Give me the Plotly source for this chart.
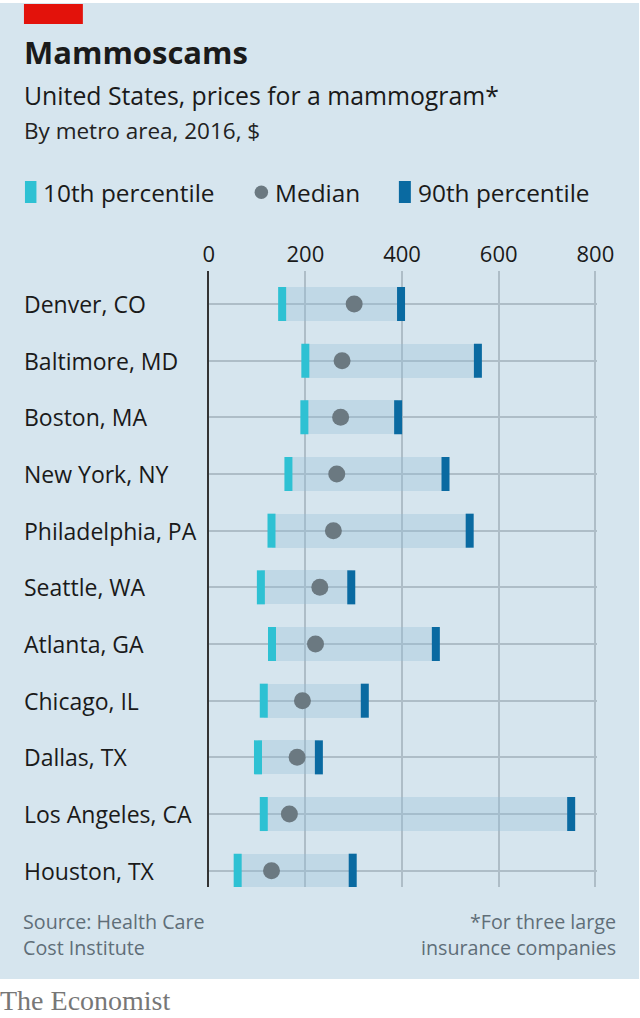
import plotly.graph_objects as go

# ---- data ----
cities = ["Denver, CO", "Baltimore, MD", "Boston, MA", "New York, NY",
          "Philadelphia, PA", "Seattle, WA", "Atlanta, GA", "Chicago, IL",
          "Dallas, TX", "Los Angeles, CA", "Houston, TX"]
p10 = [152, 200, 198, 165, 130, 108, 131, 114, 102, 114, 60]
median = [301, 276, 273, 265, 258, 230, 221, 194, 183, 167, 130]
p90 = [398, 557, 392, 490, 540, 295, 470, 323, 228, 750, 298]
x_ticks = [0, 200, 400, 600, 800]

title = "Mammoscams"
subtitle = "United States, prices for a mammogram*"
unit_line = "By metro area, 2016, $"
legend_labels = ["10th percentile", "Median", "90th percentile"]
source_lines = ["Source: Health Care", "Cost Institute"]
note_lines = ["*For three large", "insurance companies"]

# ---- styles ----
REF_W = 640
W, H = 662, 1018
BG = "#d6e5ee"
C10 = "#2ec1d3"
C90 = "#0a6aa1"
CMED = "#6b7981"
GRID = "#aebdc7"
TXT = "#1a1a1a"
FONT = "Open Sans"

def px(x):
    return x / REF_W

def py(y):
    return 1 - y / H

idx = list(range(len(cities)))
span = [b - a for a, b in zip(p10, p90)]

fig = go.Figure()
fig.add_trace(go.Bar(
    y=idx, x=span, base=p10, orientation="h", width=0.6,
    marker=dict(color="rgba(150,190,215,0.33)", line=dict(width=0)),
    hoverinfo="skip", showlegend=False))
fig.add_trace(go.Scatter(
    y=idx, x=p10, mode="markers", showlegend=False,
    marker=dict(symbol="line-ns", size=24.3, line=dict(width=8, color=C10))))
fig.add_trace(go.Scatter(
    y=idx, x=p90, mode="markers", showlegend=False,
    marker=dict(symbol="line-ns", size=24.3, line=dict(width=8, color=C90))))
fig.add_trace(go.Scatter(
    y=idx, x=median, mode="markers", showlegend=False,
    marker=dict(symbol="circle", size=17, color=CMED, line=dict(width=0))))

x_left, px_per = 209, 0.4841
x_max = 804
row0, row_h = 304, 56.67
top_px, bot_px = 271, 887

fig.update_layout(
    width=W, height=H, autosize=False,
    margin=dict(l=0, r=0, t=0, b=0),
    paper_bgcolor="white", plot_bgcolor="rgba(0,0,0,0)",
    font=dict(family=FONT, color=TXT),
    bargap=0,
    xaxis=dict(
        domain=[px(x_left), px(x_left + x_max * px_per)],
        range=[0, x_max], side="top",
        tickvals=x_ticks, ticktext=[str(v) for v in x_ticks],
        tickfont=dict(size=22, color=TXT, family=FONT),
        showgrid=True, gridcolor=GRID, gridwidth=1.5,
        zeroline=False, showline=False, ticks="",
        ticklabelstandoff=4,
        fixedrange=True,
    ),
    yaxis=dict(
        domain=[py(bot_px), py(top_px)],
        range=[(bot_px - row0) / row_h, (top_px - row0) / row_h],
        tickvals=idx, showticklabels=False,
        showgrid=True, gridcolor=GRID, gridwidth=1.5,
        zeroline=False, showline=True, linecolor="#333333", linewidth=2,
        ticks="", fixedrange=True,
    ),
)

shapes = [
    dict(type="rect", xref="paper", yref="paper", x0=0, x1=1,
         y0=py(979), y1=py(3), fillcolor=BG, line=dict(width=0), layer="below"),
    dict(type="rect", xref="paper", yref="paper", x0=px(24), x1=px(83),
         y0=py(24), y1=py(4), fillcolor="#e3120b", line=dict(width=0), layer="below"),
    # legend swatches
    dict(type="rect", xref="paper", yref="paper", x0=px(25), x1=px(36.5),
         y0=py(203), y1=py(181), fillcolor=C10, line=dict(width=0)),
    dict(type="circle", xref="paper", yref="paper", x0=px(255), x1=px(268.5),
         y0=py(199), y1=py(185.5), fillcolor=CMED, line=dict(width=0)),
    dict(type="rect", xref="paper", yref="paper", x0=px(399.5), x1=px(411.5),
         y0=py(203), y1=py(181), fillcolor=C90, line=dict(width=0)),
]

ann = []
def text(x, y, s, size, color=TXT, xanchor="left", family=FONT, bold=False):
    ann.append(dict(xref="paper", yref="paper", x=px(x), y=py(y), text=(f"<b>{s}</b>" if bold else s),
                    showarrow=False, xanchor=xanchor, yanchor="middle",
                    font=dict(size=size, color=color, family=family)))

text(22, 52, title, 31, bold=True)
text(22, 95, subtitle, 24.8)
text(22, 131, unit_line, 22.5, color="#222222")
text(41, 192, legend_labels[0], 24.4)
text(273, 192, legend_labels[1], 24.4)
text(417, 192, legend_labels[2], 24.4)
text(21, 921, source_lines[0], 19.7, color="#5f6e78")
text(21, 947, source_lines[1], 19.7, color="#5f6e78")
text(619, 921, note_lines[0], 19.7, color="#5f6e78", xanchor="right")
text(619, 947, note_lines[1], 19.7, color="#5f6e78", xanchor="right")
text(-2, 1000, "The Economist", 28, color="#777777", family="Liberation Serif")

for i, c in enumerate(cities):
    ann.append(dict(xref="paper", yref="y", x=px(22), y=i, text=c, showarrow=False,
                    xanchor="left", yanchor="middle",
                    font=dict(size=23, color=TXT, family=FONT)))

fig.update_layout(shapes=shapes, annotations=ann)

post = """
document.documentElement.style.margin='0';
document.body.style.margin='0';
document.body.style.overflow='hidden';
document.documentElement.style.overflow='hidden';
var gd = document.getElementById('{plot_id}');
gd.style.marginLeft = '-6px';
"""

fig.write_html("out.html",
               config={"responsive": False, "displayModeBar": False},
               post_script=post)
